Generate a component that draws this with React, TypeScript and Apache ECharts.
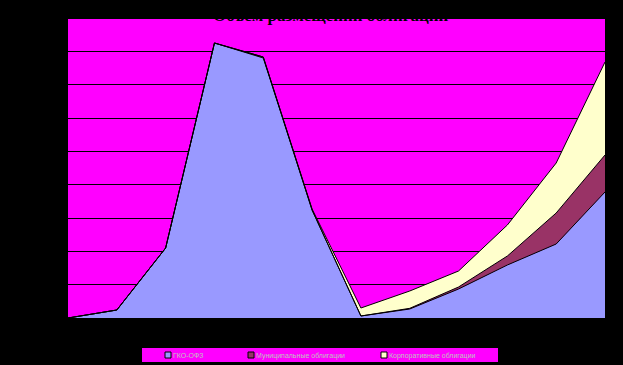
import React, { useEffect, useRef } from "react";
import * as echarts from "echarts";

const categories = ["1993", "1994", "1995", "1996", "1997", "1998", "1999", "2000", "2001", "2002", "2003", "2004"];
const gkoOfz = [0, 2.4, 21, 82.5, 78, 32.4, 0.6, 2.7, 8.7, 15.9, 22.2, 37.8];
const municipal = [0, 0, 0, 0, 0.3, 0, 0, 0.2, 0.6, 2.7, 9.3, 11.1];
const corporate = [0, 0, 0, 0, 0, 0.3, 2.4, 5.2, 4.8, 9.3, 15, 27.9];
const seriesNames = ["ГКО-ОФЗ", "Муниципальные облигации", "Корпоративные облигации"];
const seriesColors = ["#9999FF", "#993366", "#FFFFCC"];
const titleText = "Объем размещений облигаций";

export default function App() {
  const ref = useRef<HTMLDivElement>(null);
  useEffect(() => {
    if (!ref.current) return;
    const chart = echarts.init(ref.current, undefined, { renderer: "svg" });
    const data = [gkoOfz, municipal, corporate];
    const legendX = [165, 248, 381];
    chart.setOption({
      animation: false,
      backgroundColor: "#000000",
      title: {
        text: titleText,
        left: 208,
        top: 2,
        textStyle: { color: "#000000", fontFamily: "Liberation Serif", fontSize: 17, fontWeight: "bold" },
      },
      grid: {
        left: 68,
        right: 18,
        top: 18,
        bottom: 47,
        show: true,
        backgroundColor: "#FF00FF",
        borderWidth: 0,
      },
      xAxis: {
        type: "category",
        data: categories,
        boundaryGap: false,
        axisLine: { show: false },
        axisTick: { show: false },
        axisLabel: { show: false },
      },
      yAxis: {
        type: "value",
        min: 0,
        max: 90,
        interval: 10,
        axisLine: { show: false },
        axisTick: { show: false },
        axisLabel: { show: false },
        splitLine: { show: true, lineStyle: { color: "#000000", width: 1 } },
      },
      series: data.map((d, i) => ({
        name: seriesNames[i],
        type: "line",
        stack: "total",
        data: d,
        showSymbol: false,
        symbol: "none",
        itemStyle: { color: seriesColors[i] },
        lineStyle: { color: "#000000", width: 1 },
        areaStyle: { color: seriesColors[i], opacity: 1 },
      })),
      graphic: [
        { type: "rect", shape: { x: 142, y: 348, width: 356, height: 14 }, style: { fill: "#FF00FF" } },
        ...seriesNames.flatMap((n, i) => [
          {
            type: "rect",
            shape: { x: legendX[i], y: 352, width: 6, height: 6 },
            style: { fill: seriesColors[i], stroke: "#000000", lineWidth: 1 },
          },
          {
            type: "text",
            x: legendX[i] + 8,
            y: 355,
            style: {
              text: n,
              fill: "#C0C0C0",
              font: "7px Liberation Sans",
              textVerticalAlign: "middle",
              verticalAlign: "middle",
            },
          },
        ]),
      ],
    });
    return () => chart.dispose();
  }, []);
  return (
    <div
      ref={ref}
      style={{ position: "fixed", left: 0, top: 0, width: 623, height: 365, background: "#000" }}
    />
  );
}
